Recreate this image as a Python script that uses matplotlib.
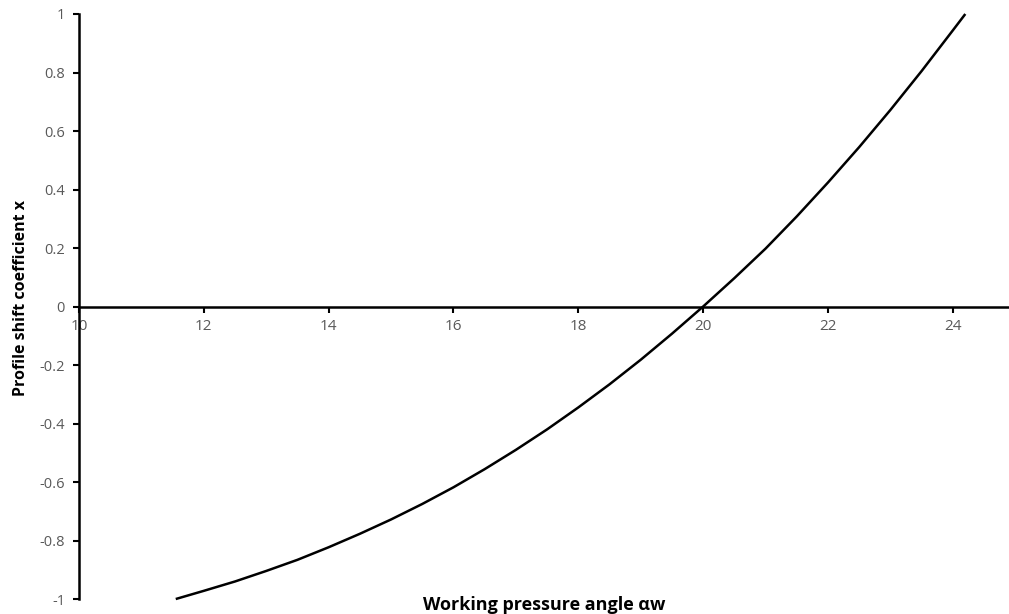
import matplotlib
matplotlib.use('Agg')
import matplotlib.pyplot as plt

plt.rcParams['font.family'] = ['Open Sans', 'DejaVu Sans']

# working pressure angle (deg) vs profile shift coefficient
alpha_w = [11.55, 12.0, 12.5, 13.0, 13.5, 14.0, 14.5, 15.0, 15.5, 16.0, 16.5, 17.0, 17.5,
           18.0, 18.5, 19.0, 19.5, 20.0, 20.5, 21.0, 21.5, 22.0, 22.5, 23.0, 23.5, 24.0, 24.2]
shift_x = [-1.000, -0.972, -0.940, -0.904, -0.866, -0.823, -0.777, -0.728, -0.675, -0.618,
           -0.556, -0.490, -0.420, -0.345, -0.266, -0.182, -0.093, 0.000, 0.097, 0.198,
           0.308, 0.424, 0.545, 0.672, 0.805, 0.944, 1.000]
xticks = [10, 12, 14, 16, 18, 20, 22, 24]
yticks = [-1, -0.8, -0.6, -0.4, -0.2, 0, 0.2, 0.4, 0.6, 0.8, 1]
ytick_labels = ['-1', '-0.8', '-0.6', '-0.4', '-0.2', '0', '0.2', '0.4', '0.6', '0.8', '1']

TXT = '#595959'

fig = plt.figure(figsize=(10.09, 6.14), dpi=100)
ax = fig.add_axes([0.0783, 0.0244, 0.9217, 0.9528])
ax.plot(alpha_w, shift_x, color='black', lw=1.8, solid_capstyle='butt', clip_on=False)

ax.set_xlim(10, 24.9)
ax.set_ylim(-1, 1)
ax.set_xticks(xticks)
ax.set_yticks(yticks)
ax.set_yticklabels(ytick_labels)

ax.spines['bottom'].set_position(('data', 0))
for sp in ['top', 'right']:
    ax.spines[sp].set_visible(False)
for sp in ['left', 'bottom']:
    ax.spines[sp].set_linewidth(1.8)
    ax.spines[sp].set_color('black')

ax.tick_params(axis='both', direction='out', length=4, width=1.5, color='black',
               labelsize=10.5, labelcolor=TXT)
ax.tick_params(axis='x', pad=5, labelsize=11)
ax.tick_params(axis='y', pad=6)

ax.set_ylabel('Profile shift coefficient x', fontsize=11.5, fontweight='bold', color='black')
ax.yaxis.set_label_coords(-0.0624, 0.514)
ax.yaxis.label.set_va('center')
ax.set_xlabel('Working pressure angle αw', fontsize=13, fontweight='bold', color='black')
ax.xaxis.set_label_coords(0.5, -0.0095)
ax.xaxis.label.set_va('center')

fig.savefig('out.png', dpi=100)
